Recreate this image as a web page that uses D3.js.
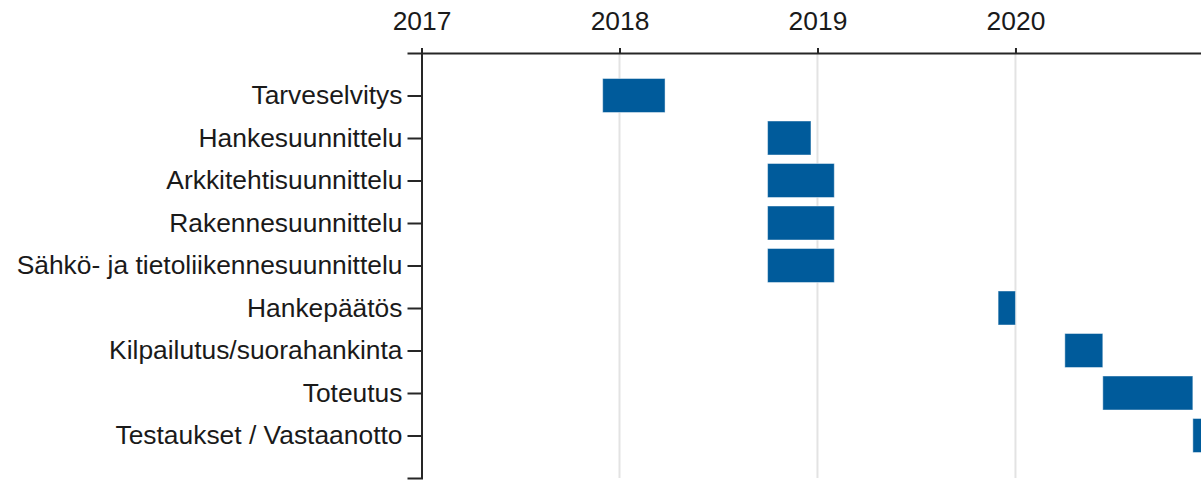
<!DOCTYPE html>
<html>
<head>
<meta charset="utf-8">
<script src="https://cdn.jsdelivr.net/npm/d3@7"></script>
<style>
  body { margin: 0; background: #fff; }
  svg { display: block; }
  text { font-family: "Liberation Sans", Arial, sans-serif; fill: #1a1a1a; }
</style>
</head>
<body>
<script>
// tasks, top to bottom
var tasks = [
  "Tarveselvitys",
  "Hankesuunnittelu",
  "Arkkitehtisuunnittelu",
  "Rakennesuunnittelu",
  "Sähkö- ja tietoliikennesuunnittelu",
  "Hankepäätös",
  "Kilpailutus/suorahankinta",
  "Toteutus",
  "Testaukset / Vastaanotto"
];
var starts = [
  "2017-12-01", "2018-10-01", "2018-10-01", "2018-10-01", "2018-10-01",
  "2019-11-30", "2020-04-01", "2020-06-10", "2020-11-23"
];
var ends = [
  "2018-03-26", "2018-12-20", "2019-02-01", "2019-02-01", "2019-02-01",
  "2020-01-01", "2020-06-10", "2020-11-23", "2021-03-31"
];
var years = ["2017", "2018", "2019", "2020"];
var domainEnd = "2021-01-01"; // axis runs past the right edge

var width = 1201, height = 481;
var parse = d3.timeParse("%Y-%m-%d");

var data = tasks.map(function(t, i) {
  return { task: t, start: parse(starts[i]), end: parse(ends[i]) };
});

var svg = d3.select("body").append("svg")
  .attr("width", width)
  .attr("height", height);

var x = d3.scaleTime()
  .domain([parse(years[0] + "-01-01"), parse(domainEnd)])
  .range([421.5, 1214]);

var y = d3.scalePoint()
  .domain(tasks)
  .range([53, 478])
  .padding(1);

var barH = y.step() * 0.8;

// grid
svg.append("g")
  .selectAll("line")
  .data(years.slice(1))
  .join("line")
  .attr("x1", function(d) { return x(parse(d + "-01-01")); })
  .attr("x2", function(d) { return x(parse(d + "-01-01")); })
  .attr("y1", 53)
  .attr("y2", 478)
  .attr("stroke", "#e3e3e3")
  .attr("stroke-width", 2);

// bars
svg.append("g")
  .selectAll("rect")
  .data(data)
  .join("rect")
  .attr("x", function(d) { return x(d.start); })
  .attr("y", function(d) { return y(d.task) - barH / 2; })
  .attr("width", function(d) { return x(d.end) - x(d.start); })
  .attr("height", barH)
  .attr("fill", "#005b9b")
  .attr("stroke", "#ffffff")
  .attr("stroke-opacity", 0.45)
  .attr("stroke-width", 1);

// top axis
var xAxis = d3.axisTop(x)
  .tickValues(years.map(function(d) { return parse(d + "-01-01"); }))
  .tickFormat(d3.timeFormat("%Y"))
  .tickSizeInner(5)
  .tickSizeOuter(5)
  .tickPadding(18);

var gx = svg.append("g")
  .attr("transform", "translate(0,53)")
  .call(xAxis);

// left axis
var yAxis = d3.axisLeft(y)
  .tickSizeInner(14)
  .tickSizeOuter(14)
  .tickPadding(5);

var gy = svg.append("g")
  .attr("transform", "translate(421.5,0)")
  .call(yAxis);

[gx, gy].forEach(function(g) {
  g.selectAll("path, line").attr("stroke", "#262626").attr("stroke-width", 2);
  g.selectAll("text")
    .attr("font-size", 26.4)
    .attr("font-family", "'Liberation Sans', Arial, sans-serif")
    .attr("fill", "#1a1a1a");
});
</script>
</body>
</html>
